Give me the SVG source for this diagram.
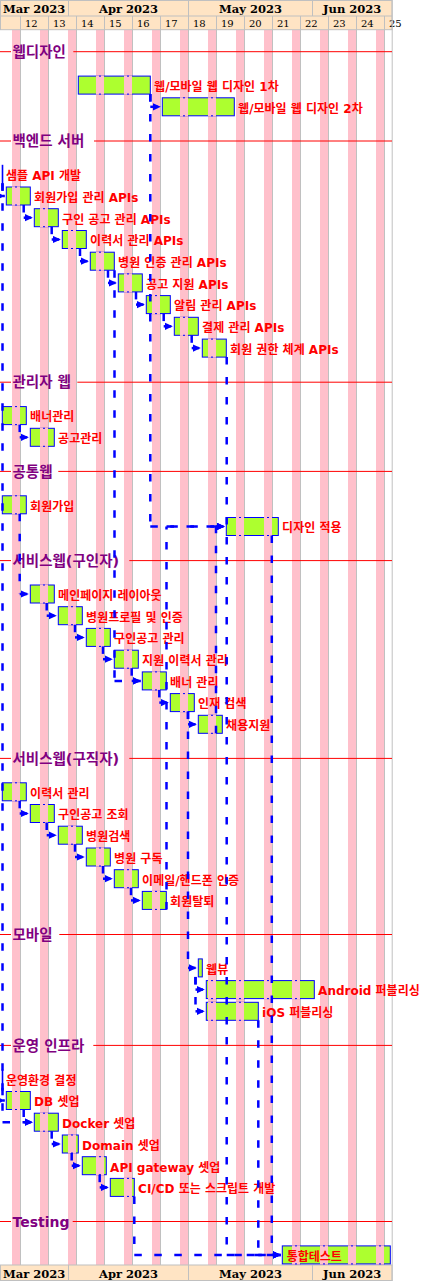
<svg xmlns="http://www.w3.org/2000/svg" xmlns:xlink="http://www.w3.org/1999/xlink" width="422" height="1282" viewBox="0 0 422 1282">
<style>
.hdr{fill:#FFE4C4;stroke:#C0C0C0;stroke-width:1}
.g{stroke:#C0C0C0;stroke-width:1}
.pk{fill:#FFC0CB}
.sep{stroke:#FF0000;stroke-width:1}
.st{font-family:"DejaVu Sans","Noto Sans CJK KR",sans-serif;font-size:14.5px;font-weight:bold;fill:#800080}
.lb{font-family:"DejaVu Sans","Noto Sans CJK KR",sans-serif;font-size:12px;font-weight:bold;fill:#FF0000}
.bar{fill:#ADFF2F;stroke:#0000FF;stroke-width:1}
.c{fill:none;stroke:#0000FF;stroke-width:2.5;stroke-dasharray:7.5 12.5}
.a{marker-end:url(#ah)}
.mo{font-family:"DejaVu Serif",serif;font-weight:bold;font-size:11.5px;fill:#000;text-anchor:middle}
.wn{font-family:"DejaVu Serif",serif;font-size:10px;fill:#000}
</style>
<defs>
<marker id="ah" markerWidth="8" markerHeight="8" refX="8" refY="4" orient="auto" markerUnits="userSpaceOnUse"><path d="M0,0.3 L8,4 L0,7.7 z" fill="#0000FF"/></marker>
<g id="we"><rect x="0" y="-0.6" width="8" height="19.2" fill="#FFC0CB"/><rect x="3" y="-0.5" width="2" height="1" fill="#0000FF"/><rect x="3" y="17.5" width="2" height="1" fill="#0000FF"/></g>
</defs>
<rect width="422" height="1282" fill="#FFFFFF"/>
<g id="background">
<rect class="pk" x="12" y="29.7" width="8" height="1235.3"/>
<rect class="pk" x="40" y="29.7" width="8" height="1235.3"/>
<rect class="pk" x="68" y="29.7" width="8" height="1235.3"/>
<rect class="pk" x="96" y="29.7" width="8" height="1235.3"/>
<rect class="pk" x="124" y="29.7" width="8" height="1235.3"/>
<rect class="pk" x="152" y="29.7" width="8" height="1235.3"/>
<rect class="pk" x="180" y="29.7" width="8" height="1235.3"/>
<rect class="pk" x="208" y="29.7" width="8" height="1235.3"/>
<rect class="pk" x="236" y="29.7" width="8" height="1235.3"/>
<rect class="pk" x="264" y="29.7" width="8" height="1235.3"/>
<rect class="pk" x="292" y="29.7" width="8" height="1235.3"/>
<rect class="pk" x="320" y="29.7" width="8" height="1235.3"/>
<rect class="pk" x="348" y="29.7" width="8" height="1235.3"/>
<rect class="pk" x="376" y="29.7" width="8" height="1235.3"/>
</g>
<g id="header-top">
<rect class="hdr" x="0.5" y="0.5" width="391.5" height="29.2"/>
<line class="g" x1="0" y1="16" x2="392" y2="16"/>
<line class="g" x1="68.5" y1="0" x2="68.5" y2="16"/>
<line class="g" x1="188.5" y1="0" x2="188.5" y2="16"/>
<line class="g" x1="312.5" y1="0" x2="312.5" y2="16"/>
<text class="mo" x="34.2" y="12.8">Mar 2023</text>
<text class="mo" x="128.5" y="12.8">Apr 2023</text>
<text class="mo" x="250.5" y="12.8">May 2023</text>
<text class="mo" x="352.2" y="12.8">Jun 2023</text>
<text class="wn" x="25" y="27">12</text>
<text class="wn" x="53" y="27">13</text>
<text class="wn" x="81" y="27">14</text>
<text class="wn" x="109" y="27">15</text>
<text class="wn" x="137" y="27">16</text>
<text class="wn" x="165" y="27">17</text>
<text class="wn" x="193" y="27">18</text>
<text class="wn" x="221" y="27">19</text>
<text class="wn" x="249" y="27">20</text>
<text class="wn" x="277" y="27">21</text>
<text class="wn" x="305" y="27">22</text>
<text class="wn" x="333" y="27">23</text>
<text class="wn" x="361" y="27">24</text>
<text class="wn" x="389" y="27">25</text>
</g>
<g id="header-bottom">
<rect class="hdr" x="0.5" y="1265" width="391.5" height="15.5"/>
<line class="g" x1="68.5" y1="1265" x2="68.5" y2="1281"/>
<line class="g" x1="188.5" y1="1265" x2="188.5" y2="1281"/>
<line class="g" x1="312.5" y1="1265" x2="312.5" y2="1281"/>
<text class="mo" x="34.2" y="1277.5">Mar 2023</text>
<text class="mo" x="128.5" y="1277.5">Apr 2023</text>
<text class="mo" x="250.5" y="1277.5">May 2023</text>
<text class="mo" x="352.2" y="1277.5">Jun 2023</text>
</g>
<g id="grid">
<line class="g" x1="20.5" y1="16" x2="20.5" y2="1265"/>
<line class="g" x1="48.5" y1="16" x2="48.5" y2="1265"/>
<line class="g" x1="76.5" y1="16" x2="76.5" y2="1265"/>
<line class="g" x1="104.5" y1="16" x2="104.5" y2="1265"/>
<line class="g" x1="132.5" y1="16" x2="132.5" y2="1265"/>
<line class="g" x1="160.5" y1="16" x2="160.5" y2="1265"/>
<line class="g" x1="188.5" y1="16" x2="188.5" y2="1265"/>
<line class="g" x1="216.5" y1="16" x2="216.5" y2="1265"/>
<line class="g" x1="244.5" y1="16" x2="244.5" y2="1265"/>
<line class="g" x1="272.5" y1="16" x2="272.5" y2="1265"/>
<line class="g" x1="300.5" y1="16" x2="300.5" y2="1265"/>
<line class="g" x1="328.5" y1="16" x2="328.5" y2="1265"/>
<line class="g" x1="356.5" y1="16" x2="356.5" y2="1265"/>
<line class="g" x1="384.5" y1="16" x2="384.5" y2="1265"/>
<line class="g" x1="392.2" y1="0" x2="392.2" y2="1281"/>
</g>
<g id="separators">
<g id="sep-webdesign"><line class="sep" x1="0" y1="51.7" x2="11" y2="51.7"/><line class="sep" x1="73.3" y1="51.7" x2="392" y2="51.7"/><text class="st" x="12.5" y="56.9">웹디자인</text></g>
<g id="sep-backend"><line class="sep" x1="0" y1="141" x2="11" y2="141"/><line class="sep" x1="94" y1="141" x2="392" y2="141"/><text class="st" x="12.5" y="146.2">백엔드 서버</text></g>
<g id="sep-admin"><line class="sep" x1="0" y1="382.2" x2="11" y2="382.2"/><line class="sep" x1="77.3" y1="382.2" x2="392" y2="382.2"/><text class="st" x="12.5" y="387.4">관리자 웹</text></g>
<g id="sep-common"><line class="sep" x1="0" y1="471.4" x2="11" y2="471.4"/><line class="sep" x1="58.3" y1="471.4" x2="392" y2="471.4"/><text class="st" x="12.5" y="476.6">공통웹</text></g>
<g id="sep-employer"><line class="sep" x1="0" y1="560.6" x2="11" y2="560.6"/><line class="sep" x1="129.3" y1="560.6" x2="392" y2="560.6"/><text class="st" x="12.5" y="565.8">서비스웹(구인자)</text></g>
<g id="sep-seeker"><line class="sep" x1="0" y1="758.4" x2="11" y2="758.4"/><line class="sep" x1="129.3" y1="758.4" x2="392" y2="758.4"/><text class="st" x="12.5" y="763.6">서비스웹(구직자)</text></g>
<g id="sep-mobile"><line class="sep" x1="0" y1="934.5" x2="11" y2="934.5"/><line class="sep" x1="59.3" y1="934.5" x2="392" y2="934.5"/><text class="st" x="12.5" y="939.7">모바일</text></g>
<g id="sep-infra"><line class="sep" x1="0" y1="1045.4" x2="11" y2="1045.4"/><line class="sep" x1="93.3" y1="1045.4" x2="392" y2="1045.4"/><text class="st" x="12.5" y="1050.6">운영 인프라</text></g>
<g id="sep-testing"><line class="sep" x1="0" y1="1221.5" x2="11" y2="1221.5"/><line class="sep" x1="72.7" y1="1221.5" x2="392" y2="1221.5"/><text class="st" x="12.5" y="1226.5" style="font-size:14px">Testing</text></g>
</g>
<g id="tasks">
<g id="t-design1"><rect class="bar" x="78.3" y="76.1" width="72" height="18"/><use xlink:href="#we" x="96" y="76.1"/><use xlink:href="#we" x="124" y="76.1"/><text class="lb" x="154.1" y="90.9">웹/모바일 웹 디자인 1차</text></g>
<g id="t-design2"><rect class="bar" x="162.3" y="97.8" width="72" height="18"/><use xlink:href="#we" x="180" y="97.8"/><use xlink:href="#we" x="208" y="97.8"/><text class="lb" x="238.1" y="112.6">웹/모바일 웹 디자인 2차</text></g>
<g id="t-sample"><rect x="1.7" y="164.8" width="1.6" height="19" fill="#0000FF"/><text class="lb" x="6" y="180.1">샘플 API 개발</text></g>
<g id="t-api-join"><rect class="bar" x="6.3" y="187" width="24" height="18"/><use xlink:href="#we" x="12" y="187"/><text class="lb" x="34.1" y="201.8">회원가입 관리 APIs</text></g>
<g id="t-api-job"><rect class="bar" x="34.3" y="208.7" width="24" height="18"/><use xlink:href="#we" x="40" y="208.7"/><text class="lb" x="62.1" y="223.5">구인 공고 관리 APIs</text></g>
<g id="t-api-resume"><rect class="bar" x="62.3" y="230.5" width="24" height="18"/><use xlink:href="#we" x="68" y="230.5"/><text class="lb" x="90.1" y="245.3">이력서 관리 APIs</text></g>
<g id="t-api-hospital"><rect class="bar" x="90.3" y="252.2" width="24" height="18"/><use xlink:href="#we" x="96" y="252.2"/><text class="lb" x="118.1" y="267">병원 인증 관리 APIs</text></g>
<g id="t-api-apply"><rect class="bar" x="118.3" y="273.9" width="24" height="18"/><use xlink:href="#we" x="124" y="273.9"/><text class="lb" x="146.1" y="288.7">공고 지원 APIs</text></g>
<g id="t-api-notify"><rect class="bar" x="146.3" y="295.6" width="24" height="18"/><use xlink:href="#we" x="152" y="295.6"/><text class="lb" x="174.1" y="310.4">알림 관리 APIs</text></g>
<g id="t-api-pay"><rect class="bar" x="174.3" y="317.3" width="24" height="18"/><use xlink:href="#we" x="180" y="317.3"/><text class="lb" x="202.1" y="332.1">결제 관리 APIs</text></g>
<g id="t-api-auth"><rect class="bar" x="202.3" y="339.1" width="24" height="18"/><use xlink:href="#we" x="208" y="339.1"/><text class="lb" x="230.1" y="353.9">회원 권한 체계 APIs</text></g>
<g id="t-admin-banner"><rect class="bar" x="2.3" y="406.6" width="24" height="18"/><use xlink:href="#we" x="12" y="406.6"/><text class="lb" x="30.1" y="421.4">배너관리</text></g>
<g id="t-admin-job"><rect class="bar" x="30.3" y="428.3" width="24" height="18"/><use xlink:href="#we" x="40" y="428.3"/><text class="lb" x="58.1" y="443.1">공고관리</text></g>
<g id="t-common-join"><rect class="bar" x="2.3" y="495.8" width="24" height="18"/><use xlink:href="#we" x="12" y="495.8"/><text class="lb" x="30.1" y="510.6">회원가입</text></g>
<g id="t-common-design"><rect class="bar" x="226.3" y="517.5" width="52" height="18"/><use xlink:href="#we" x="236" y="517.5"/><use xlink:href="#we" x="264" y="517.5"/><text class="lb" x="282.1" y="532.3">디자인 적용</text></g>
<g id="t-emp-main"><rect class="bar" x="30.3" y="585" width="24" height="18"/><use xlink:href="#we" x="40" y="585"/><text class="lb" x="58.1" y="599.8">메인페이지 레이아웃</text></g>
<g id="t-emp-profile"><rect class="bar" x="58.3" y="606.7" width="24" height="18"/><use xlink:href="#we" x="68" y="606.7"/><text class="lb" x="86.1" y="621.5">병원프로필 및 인증</text></g>
<g id="t-emp-job"><rect class="bar" x="86.3" y="628.4" width="24" height="18"/><use xlink:href="#we" x="96" y="628.4"/><text class="lb" x="114.1" y="643.2">구인공고 관리</text></g>
<g id="t-emp-resume"><rect class="bar" x="114.3" y="650.2" width="24" height="18"/><use xlink:href="#we" x="124" y="650.2"/><text class="lb" x="142.1" y="665">지원 이력서 관리</text></g>
<g id="t-emp-banner"><rect class="bar" x="142.3" y="671.9" width="24" height="18"/><use xlink:href="#we" x="152" y="671.9"/><text class="lb" x="170.1" y="686.7">배너 관리</text></g>
<g id="t-emp-search"><rect class="bar" x="170.3" y="693.6" width="24" height="18"/><use xlink:href="#we" x="180" y="693.6"/><text class="lb" x="198.1" y="708.4">인재 검색</text></g>
<g id="t-emp-hire"><rect class="bar" x="198.3" y="715.3" width="24" height="18"/><use xlink:href="#we" x="208" y="715.3"/><text class="lb" x="226.1" y="730.1">채용지원</text></g>
<g id="t-seek-resume"><rect class="bar" x="2.3" y="782.8" width="24" height="18"/><use xlink:href="#we" x="12" y="782.8"/><text class="lb" x="30.1" y="797.6">이력서 관리</text></g>
<g id="t-seek-job"><rect class="bar" x="30.3" y="804.5" width="24" height="18"/><use xlink:href="#we" x="40" y="804.5"/><text class="lb" x="58.1" y="819.3">구인공고 조회</text></g>
<g id="t-seek-hsearch"><rect class="bar" x="58.3" y="826.2" width="24" height="18"/><use xlink:href="#we" x="68" y="826.2"/><text class="lb" x="86.1" y="841">병원검색</text></g>
<g id="t-seek-subscribe"><rect class="bar" x="86.3" y="848" width="24" height="18"/><use xlink:href="#we" x="96" y="848"/><text class="lb" x="114.1" y="862.8">병원 구독</text></g>
<g id="t-seek-verify"><rect class="bar" x="114.3" y="869.7" width="24" height="18"/><use xlink:href="#we" x="124" y="869.7"/><text class="lb" x="142.1" y="884.5">이메일/핸드폰 인증</text></g>
<g id="t-seek-leave"><rect class="bar" x="142.3" y="891.4" width="24" height="18"/><use xlink:href="#we" x="152" y="891.4"/><text class="lb" x="170.1" y="906.2">회원탈퇴</text></g>
<g id="t-mob-webview"><rect class="bar" x="198.3" y="958.9" width="4" height="18"/><text class="lb" x="206.1" y="973.7">웹뷰</text></g>
<g id="t-mob-android"><rect class="bar" x="206.3" y="980.6" width="108" height="18"/><use xlink:href="#we" x="208" y="980.6"/><use xlink:href="#we" x="236" y="980.6"/><use xlink:href="#we" x="264" y="980.6"/><use xlink:href="#we" x="292" y="980.6"/><text class="lb" x="318.1" y="995.4">Android 퍼블리싱</text></g>
<g id="t-mob-ios"><rect class="bar" x="206.3" y="1002.3" width="52" height="18"/><use xlink:href="#we" x="208" y="1002.3"/><use xlink:href="#we" x="236" y="1002.3"/><text class="lb" x="262.1" y="1017.1">iOS 퍼블리싱</text></g>
<g id="t-infra-env"><rect x="1.7" y="1069.3" width="1.6" height="19" fill="#0000FF"/><text class="lb" x="6" y="1084.6">운영환경 결정</text></g>
<g id="t-infra-db"><rect class="bar" x="6.3" y="1091.5" width="24" height="18"/><use xlink:href="#we" x="12" y="1091.5"/><text class="lb" x="34.1" y="1106.3">DB 셋업</text></g>
<g id="t-infra-docker"><rect class="bar" x="34.3" y="1113.2" width="24" height="18"/><use xlink:href="#we" x="40" y="1113.2"/><text class="lb" x="62.1" y="1128">Docker 셋업</text></g>
<g id="t-infra-domain"><rect class="bar" x="62.3" y="1135" width="16" height="18"/><use xlink:href="#we" x="68" y="1135"/><text class="lb" x="82.1" y="1149.8">Domain 셋업</text></g>
<g id="t-infra-gateway"><rect class="bar" x="82.3" y="1156.7" width="24" height="18"/><use xlink:href="#we" x="96" y="1156.7"/><text class="lb" x="110.1" y="1171.5">API gateway 셋업</text></g>
<g id="t-infra-cicd"><rect class="bar" x="110.3" y="1178.4" width="24" height="18"/><use xlink:href="#we" x="124" y="1178.4"/><text class="lb" x="138.1" y="1193.2">CI/CD 또는 스크립트 개발</text></g>
<g id="t-test"><rect class="bar" x="282.3" y="1245.9" width="108" height="18"/><use xlink:href="#we" x="292" y="1245.9"/><use xlink:href="#we" x="320" y="1245.9"/><use xlink:href="#we" x="348" y="1245.9"/><use xlink:href="#we" x="376" y="1245.9"/><text class="lb" x="286.7" y="1260.7">통합테스트</text></g>
</g>
<g id="connectors">
<path class="c" d="M150.3,94.1 V106.8"/><path class="c a" d="M150.3,106.8 H160.8"/>
<path class="c" d="M150.3,94.1 V526.5"/><path class="c a" d="M150.3,526.5 H224.8"/>
<path class="c" d="M166.5,909.4 V526.5"/><path class="c a" d="M166.5,526.5 H224.8"/>
<path class="c" d="M216,733.3 V526.5"/><path class="c a" d="M216,526.5 H224.8"/>
<path class="c" d="M2.5,183.3 V196"/><path class="c a" d="M2.5,196 H4.8"/>
<path class="c" d="M2.5,183.3 V1122.2"/><path class="c a" d="M2.5,1122.2 H32.8"/>
<path class="c" d="M23.7,205 V217.7"/><path class="c a" d="M23.7,217.7 H32.8"/>
<path class="c" d="M51.7,226.7 V239.5"/><path class="c a" d="M51.7,239.5 H60.8"/>
<path class="c" d="M80,248.5 V261.2"/><path class="c a" d="M80,261.2 H88.8"/>
<path class="c" d="M108,270.2 V282.9"/><path class="c a" d="M108,282.9 H116.8"/>
<path class="c" d="M136,291.9 V304.6"/><path class="c a" d="M136,304.6 H144.8"/>
<path class="c" d="M163.7,313.6 V326.3"/><path class="c a" d="M163.7,326.3 H172.8"/>
<path class="c" d="M191.7,335.3 V348.1"/><path class="c a" d="M191.7,348.1 H200.8"/>
<path class="c" d="M114.5,270.2 V680.9"/><path class="c a" d="M114.5,680.9 H140.8"/>
<path class="c" d="M226.7,357.1 V1254.9"/><path class="c a" d="M226.7,1254.9 H280.8"/>
<path class="c" d="M271.8,535.5 V1254.9"/><path class="c a" d="M271.8,1254.9 H280.8"/>
<path class="c" d="M258.3,1020.3 V1254.9"/><path class="c a" d="M258.3,1254.9 H280.8"/>
<path class="c" d="M134.3,1196.4 V1254.9"/><path class="c a" d="M134.3,1254.9 H280.8"/>
<path class="c" d="M19.7,424.6 V437.3"/><path class="c a" d="M19.7,437.3 H28.8"/>
<path class="c" d="M19.7,513.8 V594"/><path class="c a" d="M19.7,594 H28.8"/>
<path class="c" d="M46.7,603 V615.7"/><path class="c a" d="M46.7,615.7 H56.8"/>
<path class="c" d="M75,624.7 V637.4"/><path class="c a" d="M75,637.4 H84.8"/>
<path class="c" d="M103,646.4 V659.2"/><path class="c a" d="M103,659.2 H112.8"/>
<path class="c" d="M131.7,668.2 V680.9"/><path class="c a" d="M131.7,680.9 H140.8"/>
<path class="c" d="M159.3,689.9 V702.6"/><path class="c a" d="M159.3,702.6 H168.8"/>
<path class="c" d="M188,711.6 V724.3"/><path class="c a" d="M188,724.3 H196.8"/>
<path class="c" d="M188,711.6 V967.9"/><path class="c a" d="M188,967.9 H196.8"/>
<path class="c" d="M19.7,800.8 V813.5"/><path class="c a" d="M19.7,813.5 H28.8"/>
<path class="c" d="M46.7,822.5 V835.2"/><path class="c a" d="M46.7,835.2 H56.8"/>
<path class="c" d="M75,844.2 V857"/><path class="c a" d="M75,857 H84.8"/>
<path class="c" d="M103,866 V878.7"/><path class="c a" d="M103,878.7 H112.8"/>
<path class="c" d="M131,887.7 V900.4"/><path class="c a" d="M131,900.4 H140.8"/>
<path class="c" d="M195.5,976.9 V989.6"/><path class="c a" d="M195.5,989.6 H204.8"/>
<path class="c" d="M195.5,976.9 V1011.3"/><path class="c a" d="M195.5,1011.3 H204.8"/>
<path class="c" d="M2.5,1087.8 V1100.5"/><path class="c a" d="M2.5,1100.5 H4.8"/>
<path class="c" d="M23.7,1109.5 V1122.2"/><path class="c a" d="M23.7,1122.2 H32.8"/>
<path class="c" d="M51.7,1131.2 V1144"/><path class="c a" d="M51.7,1144 H60.8"/>
<path class="c" d="M71.7,1153 V1165.7"/><path class="c a" d="M71.7,1165.7 H80.8"/>
<path class="c" d="M99.7,1174.7 V1187.4"/><path class="c a" d="M99.7,1187.4 H108.8"/>
</g>
</svg>
